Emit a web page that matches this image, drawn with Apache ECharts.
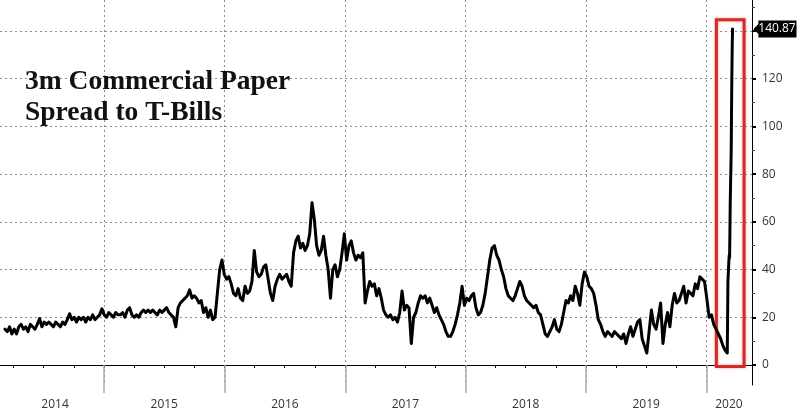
<!DOCTYPE html>
<html><head><meta charset="utf-8">
<script src="https://cdn.jsdelivr.net/npm/echarts@6/dist/echarts.min.js"></script>
<style>html,body{margin:0;padding:0;background:#fff}#c{width:800px;height:417px}</style>
</head><body><div id="c"></div>
<script>
// ---- data (weekly readings, starting 6 Mar 2014) ----
const startDate = '2014-03-06';
const values2014 = [15,14,16,13,15,13,16,17,15,16,14,17,16,15,17,19.5,16,18,17,18,17,16,18,17,16,18,17,19,21.5,19,20,18,20,19,20,18,20,19,21,19,20,21,23.5];
const values2015 = [21,20,22,21,20,22,21,21,22,20,23,24,21,20,21,20,22,23,22,23,22,23,22,21,23,22,23,24,22,21,20,16,24,26,27,28,29,31.5,28,29,28,26,27,22,24,20,23,19,20,30,40,44,38];
const values2016 = [36,37,34,30,29,32,28,27,33,30,31,35,48,39,37,38,41,42,36,30,27,33,36,38,36,37,38,35,33,47,52,54,49,51,48,50,55,68,61,50,46,48,54,46,40,28,40,42,37,40,47,55];
const values2017 = [44,50,52,47,44,46,45,47,26,31,35,33,34,29,32,28,23,21,20,21,19,20,18,22,31,23,25,24,9,20,22,26,29,28,29,26,28,25,22,24,21,19,17,14,12,12,14,17,21,26,33,25];
const values2018 = [28,27,29,30,24,21,22,25,30,37,44,49,50,46,44,40,37,32,29,28,27,29,32,35,33,29,27,26,25,24,25,22,21,17,13,12,14,16,19,15,14,17,22,27,26,29,27,33,30,25,34,39];
const values2019 = [37,33,32,30,25,19,17,14,12,14,13,12,14,13,12,11,13,9,13,16,12,15,18,19,11,8,5,14,23,17,15,20,26,9,17,22,16,25,30,26,27,30,33,26,31,30,29,34,32,37,36,35];
const values2020 = [28,20,21,17,15,13,11,8,6];
// daily readings during the March 2020 spike
const lateDates = ['2020-03-02','2020-03-04','2020-03-05','2020-03-06','2020-03-09','2020-03-10','2020-03-11','2020-03-12','2020-03-13','2020-03-16','2020-03-17','2020-03-18','2020-03-19','2020-03-20'];
const lateValues = [6,5,19,35,44,46,45,55,68,90,108,122,133,140.87];
const lastValue = 140.87;

// axes / labels
const yearLabels = [2014,2015,2016,2017,2018,2019,2020];
const yearLabelDates = ['2014-08-05','2015-07-02','2016-07-02','2017-07-02','2018-07-02','2019-07-02','2020-03-09'];
const yTickValues = [0,20,40,60,80,100,120,140];
const yLabelValues = [0,20,40,60,80,100,120];
const yMinorValues = [10,30,50,70,90,110,130,150];
const axisMinDate = '2014-02-19', axisMaxDate = '2020-05-18';
const yMin = -8.4, yMax = 153;
// highlight box
const boxStart = '2020-01-31', boxEnd = '2020-04-24', boxLow = -0.6, boxHigh = 144.7;

// ---- build ----
function d(s){ const p = s.split('-').map(Number); return new Date(p[0], p[1]-1, p[2]).getTime(); }
const weekly = [].concat(values2014, values2015, values2016, values2017, values2018, values2019, values2020);
const sp = startDate.split('-').map(Number);
const seriesData = weekly.map((v,i)=>[new Date(sp[0], sp[1]-1, sp[2] + i*7).getTime(), v]);
lateDates.forEach((s,i)=>seriesData.push([d(s), lateValues[i]]));

const xMin = d(axisMinDate), xMax = d(axisMaxDate);
const quarterTicks = [], yearStarts = [];
yearLabels.forEach(y=>{
  [0,3,6,9].forEach(m=>{ const t = new Date(y,m,1).getTime(); if(t>xMin && t<xMax) quarterTicks.push(t); });
  const ys = new Date(y,0,1).getTime(); if(ys>xMin && ys<xMax) yearStarts.push(ys);
});
const labelDates = yearLabelDates.map(d);

const gridLine = {color:'#8f8f8f', width:1, type:[2,3]};
const common = {type:'value', min:xMin, max:xMax, position:'bottom', scale:true};
const chart = echarts.init(document.getElementById('c'), null, {renderer:'canvas'});
chart.setOption({
  animation:false,
  backgroundColor:'#fff',
  title:{text:'3m Commercial Paper\nSpread to T-Bills', left:25, top:66, padding:0,
    textStyle:{fontFamily:'Liberation Serif', fontWeight:'bold', fontSize:27.5, lineHeight:31, color:'#111'}},
  grid:{left:0, right:48, top:0, bottom:32, outerBoundsMode:'none', containLabel:false},
  xAxis:[
    Object.assign({}, common, {axisLine:{show:true, lineStyle:{color:'#000', width:1}},
      axisTick:{show:true, customValues:quarterTicks, length:3, lineStyle:{color:'#000'}},
      axisLabel:{show:false}, splitLine:{show:false}}),
    Object.assign({}, common, {axisLine:{show:false},
      axisTick:{show:true, customValues:yearStarts, length:28, lineStyle:{color:'#aaa', width:1.5}},
      axisLabel:{show:false}, splitLine:{show:true, lineStyle:gridLine}}),
    Object.assign({}, common, {axisLine:{show:false}, axisTick:{show:false}, splitLine:{show:false},
      axisLabel:{show:true, customValues:labelDates, margin:14, color:'#333', fontSize:12, fontFamily:'Open Sans',
        formatter:(v)=>String(new Date(v).getFullYear())}})
  ],
  yAxis:[
    {type:'value', position:'right', min:yMin, max:yMax,
      axisLine:{show:true, lineStyle:{color:'#000', width:1}},
      axisTick:{show:true, customValues:yTickValues, length:4, lineStyle:{color:'#000', width:2}},
      axisLabel:{show:true, customValues:yLabelValues, margin:10, color:'#333', fontSize:12, fontFamily:'Open Sans'},
      splitLine:{show:true, lineStyle:gridLine}},
    {type:'value', position:'right', min:yMin, max:yMax,
      axisLine:{show:false},
      axisTick:{show:true, customValues:yMinorValues, length:3, lineStyle:{color:'#444', width:1}},
      axisLabel:{show:false}, splitLine:{show:false}}
  ],
  series:[{
    type:'line', xAxisIndex:0, yAxisIndex:0, data:seriesData, showSymbol:false, symbol:'none',
    lineStyle:{color:'#000', width:3, join:'round', cap:'round'}, itemStyle:{color:'#000'}, z:3,
    markArea:{silent:true,
      itemStyle:{color:'rgba(0,0,0,0)', borderColor:'#d42a2a', borderWidth:3, shadowColor:'rgba(230,100,100,0.6)', shadowBlur:3},
      data:[[{xAxis:d(boxStart), yAxis:boxLow},{xAxis:d(boxEnd), yAxis:boxHigh}]]},
    markPoint:{silent:true,
      symbol:'path://M0,8.5L5,3.5L5,0L44,0L44,17L5,17L5,13.5Z', symbolSize:[43,17], symbolOffset:[23,0], symbolKeepAspect:false,
      itemStyle:{color:'#000'},
      label:{show:true, position:'inside', color:'#fff', fontSize:12, fontFamily:'Open Sans', formatter:String(lastValue), offset:[2,0]},
      data:[{coord:[xMax, lastValue]}]}
  }]
});
</script></body></html>
